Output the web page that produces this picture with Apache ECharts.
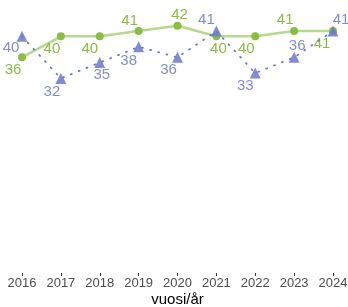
<!DOCTYPE html>
<html>
<head>
<meta charset="utf-8">
<script src="https://cdn.jsdelivr.net/npm/echarts@6/dist/echarts.min.js"></script>
<style>
  html, body { margin: 0; padding: 0; background: #fff; }
  #chart-container { width: 348px; height: 307px; }
</style>
</head>
<body>
<div id="chart-container"></div>
<script>
// data
const years = ['2016', '2017', '2018', '2019', '2020', '2021', '2022', '2023', '2024'];
const greenValues = [36, 40, 40, 41, 42, 40, 40, 41, 41];
const blueValues = [40, 32, 35, 38, 36, 41, 33, 36, 41];

// label nudges (px) so the numbers sit where they do in the original
const greenLabelOffsets = [[-9, 13], [-9, 13], [-10, 13], [-9, -10], [2, -11], [2, 13], [-9, 13], [-9, -11], [-11, 13]];
const blueLabelOffsets = [[-11, 12], [-9, 13], [2, 12], [-10, 14], [-9, 13], [-10, -11], [-10, 13], [3, -11], [8, -11]];

const green = '#8bbd43';
const greenLine = '#b6d98c';
const blue = '#6b78cc';

function withLabels(values, offsets) {
  return values.map((v, i) => ({
    value: v,
    label: { offset: offsets[i] }
  }));
}

const chart = echarts.init(document.getElementById('chart-container'));
chart.setOption({
  animation: false,
  grid: { left: 22, right: 15, top: 10, bottom: 34, containLabel: false, outerBoundsMode: 'none' },
  xAxis: {
    type: 'category',
    data: years,
    boundaryGap: false,
    axisLine: { show: false, onZero: false },
    axisTick: { show: true, length: 3, interval: 0, alignWithLabel: true, lineStyle: { color: '#333' } },
    axisLabel: { color: '#4d4d4d', fontSize: 13, margin: 4, interval: 0, hideOverlap: false, fontFamily: 'Liberation Sans' },
    name: 'vuosi/år',
    nameLocation: 'middle',
    nameGap: 19,
    nameMoveOverlap: false,
    nameTextStyle: { color: '#000', fontSize: 15, fontFamily: 'Liberation Sans' }
  },
  yAxis: {
    type: 'value',
    min: -5,
    max: 45,
    show: false
  },
  series: [
    {
      name: 'green',
      type: 'line',
      data: withLabels(greenValues, greenLabelOffsets),
      symbol: 'circle',
      symbolSize: 8,
      itemStyle: { color: green },
      lineStyle: { color: greenLine, width: 2.5 },
      label: {
        show: true,
        position: 'inside',
        align: 'center',
        verticalAlign: 'middle',
        color: green,
        fontSize: 15,
        fontFamily: 'Liberation Sans'
      },
      z: 2
    },
    {
      name: 'blue',
      type: 'line',
      data: withLabels(blueValues, blueLabelOffsets),
      symbol: 'triangle',
      symbolSize: 11,
      itemStyle: { color: blue, opacity: 0.85 },
      lineStyle: { color: blue, width: 1.8, type: [1, 7.5], cap: 'round' },
      label: {
        show: true,
        position: 'inside',
        align: 'center',
        verticalAlign: 'middle',
        color: blue,
        fontSize: 15,
        fontFamily: 'Liberation Sans'
      },
      z: 3
    }
  ]
});
</script>
</body>
</html>
